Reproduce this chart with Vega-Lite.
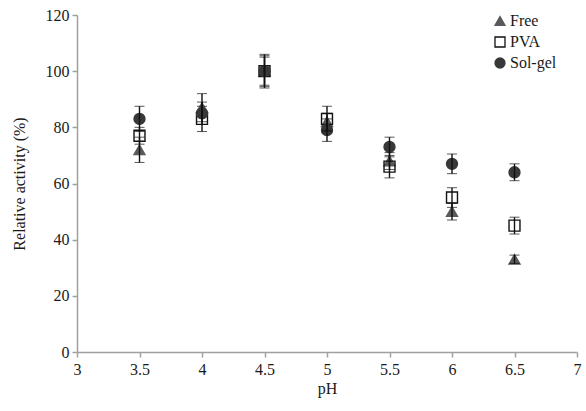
{
  "$schema": "https://vega.github.io/schema/vega-lite/v6.json",
  "autosize": {"type": "none"},
  "width": 500,
  "height": 337,
  "padding": {"left": 77, "top": 15, "right": 9, "bottom": 59},
  "background": "white",
  "config": {
    "font": "Liberation Serif",
    "view": {"stroke": null},
    "axis": {
      "grid": false,
      "domainColor": "#a0a0a0",
      "domainWidth": 1.5,
      "tickColor": "#a0a0a0",
      "tickWidth": 1.5,
      "tickSize": 5,
      "labelFont": "Liberation Serif",
      "labelFontSize": 16,
      "labelColor": "#1a1a1a",
      "titleFont": "Liberation Serif",
      "titleFontSize": 16,
      "titleFontWeight": "normal",
      "titleColor": "#1a1a1a"
    }
  },
  "data": {
    "values": [
      {"pH": 3.5, "series": "Free", "activity": 72, "err": 4.5},
      {"pH": 4.0, "series": "Free", "activity": 87, "err": 5},
      {"pH": 4.5, "series": "Free", "activity": 100, "err": 5.5},
      {"pH": 5.0, "series": "Free", "activity": 82, "err": 3},
      {"pH": 5.5, "series": "Free", "activity": 68, "err": 3},
      {"pH": 6.0, "series": "Free", "activity": 50, "err": 3},
      {"pH": 6.5, "series": "Free", "activity": 33, "err": 1.5},
      {"pH": 3.5, "series": "PVA", "activity": 77, "err": 3},
      {"pH": 4.0, "series": "PVA", "activity": 83, "err": 4.5},
      {"pH": 4.5, "series": "PVA", "activity": 100, "err": 5},
      {"pH": 5.0, "series": "PVA", "activity": 83, "err": 4.5},
      {"pH": 5.5, "series": "PVA", "activity": 66, "err": 4},
      {"pH": 6.0, "series": "PVA", "activity": 55, "err": 3.5},
      {"pH": 6.5, "series": "PVA", "activity": 45, "err": 3},
      {"pH": 3.5, "series": "Sol-gel", "activity": 83, "err": 4.5},
      {"pH": 4.0, "series": "Sol-gel", "activity": 85, "err": 4},
      {"pH": 4.5, "series": "Sol-gel", "activity": 100, "err": 6},
      {"pH": 5.0, "series": "Sol-gel", "activity": 79, "err": 4},
      {"pH": 5.5, "series": "Sol-gel", "activity": 73, "err": 3.5},
      {"pH": 6.0, "series": "Sol-gel", "activity": 67, "err": 3.5},
      {"pH": 6.5, "series": "Sol-gel", "activity": 64, "err": 3}
    ]
  },
  "layer": [
    {
      "mark": {"type": "point", "size": 120, "strokeWidth": 1.4, "opacity": 1},
      "encoding": {
        "x": {
          "field": "pH", "type": "quantitative", "title": "pH",
          "scale": {"domain": [3, 7], "nice": false, "zero": false},
          "axis": {"values": [3, 3.5, 4, 4.5, 5, 5.5, 6, 6.5, 7], "format": ".1~f", "labelPadding": 4, "titlePadding": 3, "labelFlush": false}
        },
        "y": {
          "field": "activity", "type": "quantitative", "title": "Relative activity (%)",
          "scale": {"domain": [0, 120], "nice": false},
          "axis": {"values": [0, 20, 40, 60, 80, 100, 120], "labelPadding": 3, "titlePadding": 18}
        },
        "shape": {
          "field": "series", "type": "nominal",
          "scale": {"domain": ["Free", "PVA", "Sol-gel"], "range": ["triangle-up", "square", "circle"]},
          "legend": {
            "title": null, "orient": "none", "legendX": 415, "legendY": -2,
            "padding": 0, "symbolSize": 100, "symbolStrokeWidth": 1.3,
            "labelFont": "Liberation Serif", "labelFontSize": 16, "labelColor": "#1a1a1a",
            "labelOffset": 2, "rowPadding": 5
          }
        },
        "fill": {
          "field": "series", "type": "nominal",
          "scale": {"domain": ["Free", "PVA", "Sol-gel"], "range": ["#5a5a5a", "transparent", "#383838"]}
        },
        "stroke": {
          "field": "series", "type": "nominal",
          "scale": {"domain": ["Free", "PVA", "Sol-gel"], "range": ["#5a5a5a", "#111111", "#383838"]}
        },
        "order": {"field": "series", "sort": "ascending"}
      }
    },
    {
      "mark": {"type": "errorbar", "ticks": {"size": 10, "color": "#111111", "strokeWidth": 1.4}, "rule": {"color": "#111111", "strokeWidth": 1.4}},
      "encoding": {
        "x": {"field": "pH", "type": "quantitative", "title": "pH"},
        "y": {"field": "activity", "type": "quantitative", "title": "Relative activity (%)"},
        "yError": {"field": "err"},
        "detail": {"field": "series", "type": "nominal"}
      }
    }
  ]
}
